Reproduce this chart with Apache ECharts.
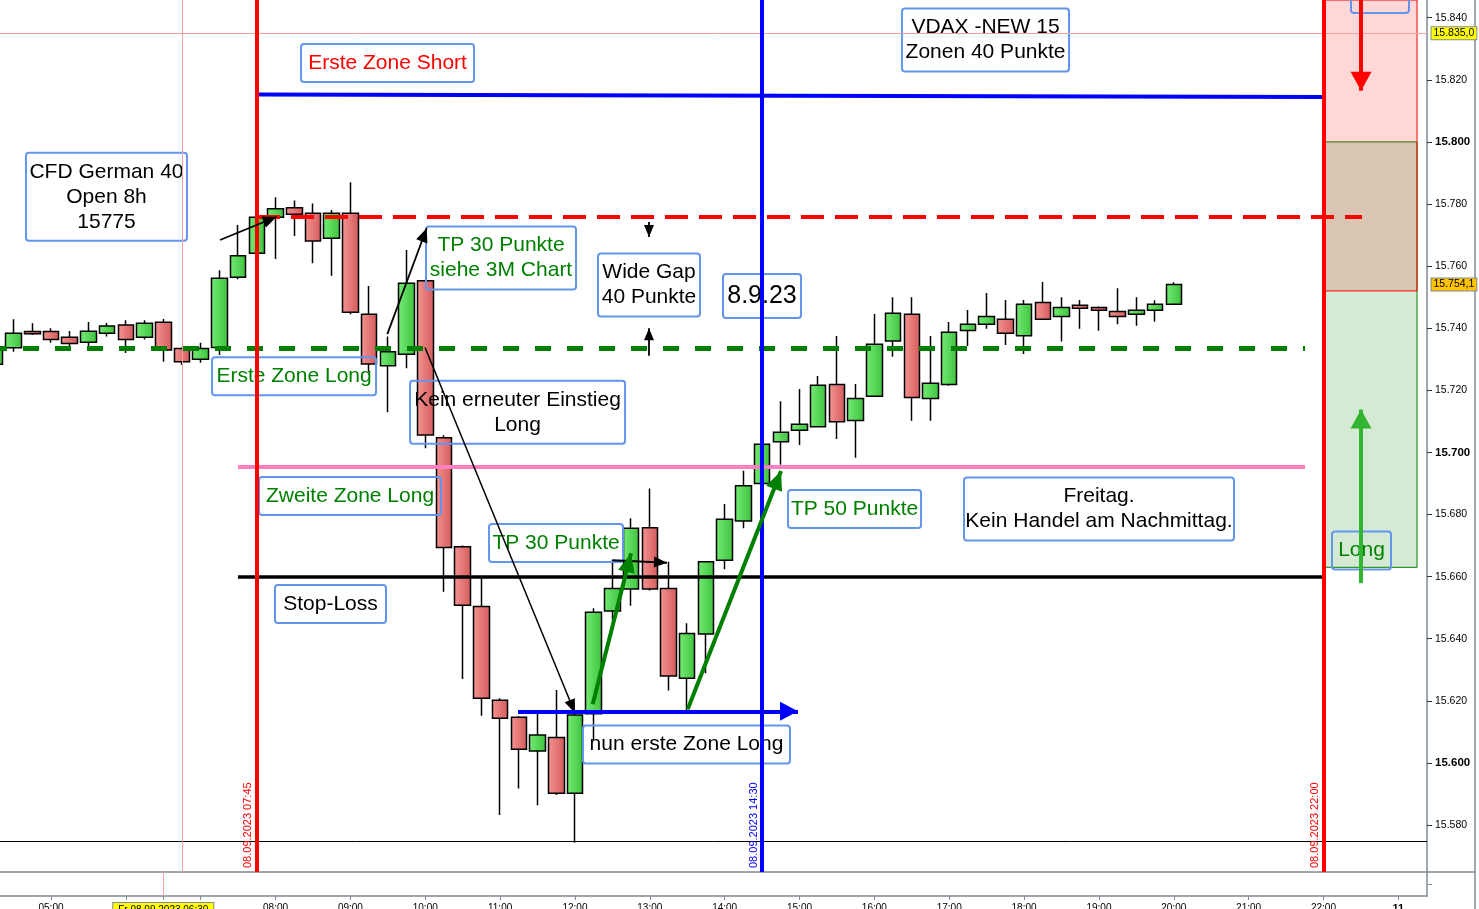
<!DOCTYPE html>
<html><head><meta charset="utf-8">
<script src="https://cdn.jsdelivr.net/npm/echarts@6/dist/echarts.min.js"></script>
<style>html,body{margin:0;padding:0;background:#fff;overflow:hidden}#c{width:1479px;height:909px}</style>
</head><body><div id="c"></div>
<script>
// ================= DATA =================
const times = ['04:15','04:30','04:45','05:00','05:15','05:30','05:45','06:00','06:15','06:30','06:45','07:00','07:15','07:30','07:45','08:00','08:15','08:30','08:45','09:00','09:15','09:30','09:45','10:00','10:15','10:30','10:45','11:00','11:15','11:30','11:45','12:00','12:15','12:30','12:45','13:00','13:15','13:30','13:45','14:00','14:15','14:30','14:45','15:00','15:15','15:30','15:45','16:00','16:15','16:30','16:45','17:00','17:15','17:30','17:45','18:00','18:15','18:30','18:45','19:00','19:15','19:30','19:45','20:00'];
const opens  = [15728.4,15733.7,15738.9,15738.9,15737.1,15735.5,15738.4,15741.0,15737.1,15741.9,15733.5,15730.0,15733.8,15756.4,15764.1,15775.7,15778.8,15777.0,15769.0,15777.0,15744.5,15727.9,15731.6,15755.3,15704.7,15669.6,15650.4,15620.2,15614.7,15603.8,15608.2,15590.2,15615.8,15648.9,15656.0,15675.7,15656.2,15627.3,15641.5,15665.3,15677.9,15690.0,15703.4,15707.1,15708.3,15721.9,15710.3,15718.1,15735.9,15744.5,15717.4,15721.9,15739.3,15741.3,15742.9,15737.6,15748.3,15743.8,15747.4,15746.7,15745.4,15744.5,15745.8,15747.7];
const closes = [15733.5,15738.4,15738.2,15736.4,15735.1,15739.0,15740.7,15736.4,15741.6,15733.0,15729.2,15733.5,15756.1,15763.3,15775.7,15778.5,15776.7,15768.1,15777.0,15745.1,15728.5,15732.4,15754.5,15705.6,15669.4,15650.8,15620.8,15614.4,15604.4,15609.0,15590.2,15615.4,15648.5,15656.2,15675.6,15656.0,15628.0,15641.7,15664.8,15678.5,15689.3,15702.6,15706.5,15709.1,15721.6,15709.9,15717.4,15734.8,15744.8,15717.7,15722.3,15738.7,15741.3,15743.8,15738.4,15747.7,15742.9,15746.7,15746.4,15745.8,15743.8,15745.8,15747.7,15754.1];
const lows   = [15726.0,15732.4,15737.8,15735.3,15733.3,15733.4,15737.3,15732.0,15736.4,15729.2,15728.2,15728.9,15731.4,15755.8,15763.8,15762.3,15769.7,15760.9,15756.9,15744.5,15725.9,15712.9,15727.1,15701.3,15655.1,15627.0,15615.2,15583.2,15591.8,15586.4,15589.7,15574.3,15607.4,15646.0,15650.6,15655.5,15623.3,15617.0,15628.9,15662.4,15675.6,15689.0,15696.0,15702.4,15708.0,15704.3,15698.3,15718.0,15730.8,15710.2,15710.2,15721.5,15734.3,15739.8,15734.6,15731.7,15742.7,15735.7,15739.8,15739.2,15741.3,15740.8,15742.1,15747.5];
const highs  = [15735.0,15742.9,15741.6,15740.0,15739.1,15742.0,15741.7,15742.6,15742.6,15743.0,15733.8,15735.3,15758.7,15773.2,15776.0,15782.2,15781.1,15780.2,15778.1,15787.0,15753.6,15737.3,15765.2,15755.6,15705.5,15670.0,15659.5,15620.8,15615.0,15616.0,15623.5,15616.0,15649.8,15665.4,15678.8,15688.4,15664.8,15645.0,15665.0,15683.4,15694.1,15703.0,15716.5,15720.4,15724.6,15737.5,15722.0,15744.6,15750.0,15750.0,15737.5,15742.0,15745.9,15751.3,15749.1,15749.1,15754.9,15750.0,15749.1,15747.0,15752.9,15750.0,15749.0,15754.8];

const yTickValues = [15580,15600,15620,15640,15660,15680,15700,15720,15740,15760,15780,15800,15820,15840];
const xTickHours  = [5,6,6.5,7,8,9,10,11,12,13,14,15,16,17,18,19,20,21,22,23];
const xLabelHours = [5,6.5,8,9,10,11,12,13,14,15,16,17,18,19,20,21,22,23];
const dateLabel = 'Fr 08.09.2023 06:30';
const nextDayLabel = '11';
const lastPrice = 15754.1;
const crossPrice = 15835.0;
const crossTimeMain = 6.758;
const crossTimeLower = 6.5;

// axis extents
const X_MIN = 4.3186, X_MAX = 23.383;
const Y_MIN = 15564.87, Y_MAX = 15845.7;

// horizontal levels: [hour, value] start / end
const levelStarts = [[7.752,15815.3],[7.752,15776.0],[X_MIN,15733.6],[7.498,15695.3],[7.498,15659.8],[X_MIN,15574.8],[X_MIN,15835.0]];
const levelEnds   = [[22.0,15814.5],[22.515,15776.0],[21.754,15733.6],[21.754,15695.3],[22.0,15659.8],[X_MAX,15574.8],[X_MAX,15835.0]];

// vertical time markers
const markerTimes  = [7.75, 14.5, 22.0];
const markerLabels = ['08.09.2023 07:45','08.09.2023 14:30','08.09.2023 22:00'];

// arrows
const arrowFrom = [[7.258,15768.4],[9.493,15738.1],[9.997,15733.8],[12.989,15774.2],[12.989,15731.1],[12.502,15665.3],[12.237,15618.9],[13.506,15617.3],[11.239,15616.6],[22.502,Y_MAX],[22.502,15657.9]];
const arrowTo   = [[8.015,15775.9],[10.019,15772.2],[12.001,15616.0],[12.989,15769.4],[12.989,15740.0],[13.230,15664.5],[12.749,15667.5],[14.753,15694.0],[14.980,15616.6],[22.502,15816.5],[22.502,15713.8]];

// zones: [fromHour, toHour, topValue, bottomValue]
const zoneLong  = [22.0, 23.250, 15800.0, 15663.0];
const zoneShort = [22.0, 23.250, Y_MAX, 15752.0];

// notes
const noteTexts = ['CFD German 40\nOpen 8h\n15775','Erste Zone Short','VDAX -NEW 15\nZonen 40 Punkte','TP 30 Punkte\nsiehe 3M Chart','Wide Gap\n40 Punkte','8.9.23','Erste Zone Long','Kein erneuter Einstieg\nLong','Zweite Zone Long','TP 30 Punkte','TP 50 Punkte','Freitag.\nKein Handel am Nachmittag.','Stop-Loss','nun erste Zone Long','Long',''];
const noteTimes  = [5.741,9.496,17.485,11.012,12.989,14.499,8.247,11.233,8.995,11.747,15.735,19.001,8.734,13.490,22.508,22.755];
const noteValues = [15782.3,15825.4,15832.8,15762.6,15753.9,15750.4,15724.5,15712.9,15686.0,15670.8,15681.8,15681.8,15651.2,15605.9,15668.4,15847.6];

// ================= STYLES =================
const FONT = '"Liberation Sans", Arial, sans-serif';
const AXIS_GREY = '#7F8B96';
const levelStyles = [
  {color:'#0000FF', width:4, type:'solid'},
  {color:'#FF0000', width:4, type:[23,11]},
  {color:'#008000', width:5, type:[16,16], dashOffset:9},
  {color:'#FF80C0', width:4, type:'solid'},
  {color:'#000000', width:3.5, type:'solid'},
  {color:'#000000', width:1, type:'solid'},
  {color:'#F4A0A0', width:1, type:'solid'}
];
const markerColors = ['#FF0000','#0000FF','#FF0000'];
const arrowStyles = [
  {c:'#000', w:1.8, s:[12,14]},
  {c:'#000', w:1.8, s:[12,14]},
  {c:'#000', w:1.5, s:[11,14]},
  {c:'#000', w:1.8, s:[10,12]},
  {c:'#000', w:1.8, s:[10,12]},
  {c:'#000', w:2, s:[11,13]},
  {c:'#008000', w:4, s:[17,19]},
  {c:'#008000', w:4, s:[17,19]},
  {c:'#0000FF', w:4, s:[19,18]},
  {c:'#FF0000', w:4, s:[21,19]},
  {c:'#33B533', w:4, s:[21,19]}
];
const G='#008000', R='#FF0000', K='#000000';
const noteColors = [K,R,K,G,K,K,G,K,G,G,G,K,K,K,G,K];
const noteWidths = [161,173,167,150,102,78,164,215,182,134,133,270,111,207,59,58];

// ================= BUILD =================
const toH = s => { const p = s.split(':'); return +p[0] + (+p[1]) / 60; };
const candles = times.map((t, i) => [toH(t), opens[i], closes[i], lows[i], highs[i]]);
const fmtPrice = v => { const s = String(Math.round(v)); return s.slice(0, s.length - 3) + '.' + s.slice(-3); };
const fmtTag = v => { const i = Math.floor(v); return fmtPrice(i) + ',' + Math.round((v - i) * 10); };
const pad2 = n => (n < 10 ? '0' : '') + n;

const upColor = new echarts.graphic.LinearGradient(0,0,1,0,[{offset:0,color:'#76EB76'},{offset:1,color:'#3CC33C'}]);
const downColor = new echarts.graphic.LinearGradient(0,0,1,0,[{offset:0,color:'#F59494'},{offset:1,color:'#D45A5A'}]);

const levelLines = levelStarts.map((s, i) => [
  {coord: s, symbol:'none', lineStyle: levelStyles[i]},
  {coord: levelEnds[i], symbol:'none'}
]);
const verticalLines = markerTimes.map((t, i) => ({
  xAxis: t, symbol:'none',
  lineStyle: {color: markerColors[i], width: 4, type:'solid'},
  label: {show: true, position: 'insideStartTop', formatter: markerLabels[i], color: markerColors[i], fontSize: 11, fontFamily: FONT, distance: [4, 3]}
}));
const crossV = {xAxis: crossTimeMain, symbol:'none', lineStyle:{color:'#F4A0A0', width:1, type:'solid'}, label:{show:false}};
const arrowLines = arrowFrom.map((f, i) => [
  {coord: f, symbol:'none', lineStyle:{color: arrowStyles[i].c, width: arrowStyles[i].w, type:'solid'}},
  {coord: arrowTo[i], symbol:'triangle', symbolSize: arrowStyles[i].s, symbolOffset:[0,'50%'], itemStyle:{color: arrowStyles[i].c}}
]);

const notes = noteTexts.map((txt, i) => {
  const big = txt === '8.9.23';
  return {
    value: [noteTimes[i], noteValues[i]],
    label: {
      show: true, position: 'inside', formatter: txt || ' ',
      color: noteColors[i], fontSize: big ? 25 : 21, lineHeight: big ? 30 : 25,
      fontFamily: FONT, align: 'center', verticalAlign: 'middle',
      width: noteWidths[i], padding: big ? [7, 0] : [6.5, 0],
      borderColor: '#6495ED', borderWidth: 1, borderRadius: 3, backgroundColor: 'transparent',
      textBorderWidth: 0
    }
  };
});

const option = {
  animation: false,
  backgroundColor: '#ffffff',
  textStyle: {fontFamily: FONT},
  grid: [
    {left: 0, top: 0, width: 1427, height: 872, containLabel: false, outerBoundsMode: 'none'},
    {left: 0, top: 872, width: 1427, height: 24, containLabel: false, outerBoundsMode: 'none'}
  ],
  xAxis: [
    {type:'value', gridIndex:0, min:X_MIN, max:X_MAX,
     axisLine:{show:true, onZero:false, lineStyle:{color:AXIS_GREY, width:1.5}},
     axisTick:{show:false}, axisLabel:{show:false}, splitLine:{show:false}},
    {type:'value', gridIndex:1, min:X_MIN, max:X_MAX,
     axisLine:{show:true, onZero:false, lineStyle:{color:AXIS_GREY, width:1.5}},
     axisTick:{show:true, customValues:xTickHours, length:4, lineStyle:{color:AXIS_GREY}},
     axisLabel:{show:true, customValues:xLabelHours, margin:7, fontSize:10, color:'#000',
       formatter: h => h === 6.5 ? '{d|' + dateLabel + '}' : (h === 23 ? '{n|' + nextDayLabel + '}' : pad2(h) + ':00'),
       rich:{
         d:{backgroundColor:'#FFFF00', borderColor:AXIS_GREY, borderWidth:1, padding:[2,5,2,5], fontSize:10, color:'#000'},
         n:{fontWeight:'bold', fontSize:11, color:'#000'}
       }},
     splitLine:{show:false}}
  ],
  yAxis: [
    {type:'value', gridIndex:0, position:'right', min:Y_MIN, max:Y_MAX,
     axisLine:{show:true, onZero:false, lineStyle:{color:AXIS_GREY, width:1.5}},
     axisTick:{show:true, customValues:yTickValues, length:5, lineStyle:{color:'#333'}},
     axisLabel:{show:true, customValues:yTickValues, margin:8, fontSize:10.5, color:'#000',
       formatter: v => (Math.round(v) % 100 === 0 ? '{b|' + fmtPrice(v) + '}' : fmtPrice(v)),
       rich:{b:{fontWeight:'bold', fontSize:11.5, color:'#000'}}},
     splitLine:{show:false}},
    {type:'value', gridIndex:1, position:'right', min:0, max:1,
     axisLine:{show:true, onZero:false, lineStyle:{color:AXIS_GREY, width:1.5}},
     axisTick:{show:true, customValues:[0.5], length:5, lineStyle:{color:AXIS_GREY}},
     axisLabel:{show:false}, splitLine:{show:false}}
  ],
  series: [
    {
      name:'zones', type:'line', xAxisIndex:0, yAxisIndex:0, data:[], z:1, silent:true,
      markArea: {
        silent: true,
        data: [
          [{coord:[zoneLong[0], zoneLong[2]], itemStyle:{color:'rgba(0,128,0,0.165)', borderColor:'#008000', borderWidth:1}},
           {coord:[zoneLong[1], zoneLong[3]]}],
          [{coord:[zoneShort[0], zoneShort[2]], itemStyle:{color:'rgba(255,0,0,0.155)', borderColor:'#FF0000', borderWidth:1}},
           {coord:[zoneShort[1], zoneShort[3]]}]
        ]
      }
    },
    {
      name:'CFD German 40', type:'candlestick', xAxisIndex:0, yAxisIndex:0, z:2,
      dimensions:['time','open','close','lowest','highest'],
      encode:{x:'time', y:['open','close','lowest','highest']},
      data: candles, barWidth: 16, clip: true,
      itemStyle:{color:upColor, color0:downColor, borderColor:'#000', borderColor0:'#000', borderWidth:1.5},
      markPoint: {
        silent: true,
        data: [
          {coord:[X_MAX, crossPrice], symbol:'rect', symbolSize:1, itemStyle:{color:'transparent'},
           label:{show:true, position:'right', distance:4, formatter: fmtTag(crossPrice), color:'#000', fontSize:10.5,
                  backgroundColor:'#FFFF00', borderColor:AXIS_GREY, borderWidth:1, padding:[1,2,0,2]}},
          {coord:[X_MAX, lastPrice], symbol:'rect', symbolSize:1, itemStyle:{color:'transparent'},
           label:{show:true, position:'right', distance:4, formatter: fmtTag(lastPrice), color:'#000', fontSize:10.5,
                  backgroundColor:'#FFC400', borderColor:AXIS_GREY, borderWidth:1, padding:[1,2,0,2]}}
        ]
      }
    },
    {
      name:'notes', type:'scatter', xAxisIndex:0, yAxisIndex:0, z:3, clip:false, silent:true,
      symbol:'circle', symbolSize:1, itemStyle:{color:'transparent', opacity:1},
      data: notes
    },
    {
      name:'lines', type:'line', xAxisIndex:0, yAxisIndex:0, data:[], z:5, silent:true,
      markLine: {
        silent: true, symbol:'none', label:{show:false},
        data: [].concat(levelLines, [crossV], verticalLines, arrowLines)
      }
    },
    {
      name:'cross', type:'line', xAxisIndex:1, yAxisIndex:1, data:[], silent:true,
      markLine: {silent:true, symbol:'none', label:{show:false},
        data:[{xAxis: crossTimeLower, lineStyle:{color:'#F4A0A0', width:1, type:'solid'}}]}
    }
  ],
  graphic: [
    {type:'line', shape:{x1:1475, y1:0, x2:1475, y2:909}, style:{stroke:AXIS_GREY, lineWidth:1.5}, silent:true},
    {type:'line', shape:{x1:1427, y1:872, x2:1475, y2:872}, style:{stroke:AXIS_GREY, lineWidth:1.5}, silent:true}
  ]
};
const chart = echarts.init(document.getElementById('c'), null, {renderer:'canvas'});
chart.setOption(option);
</script>
</body></html>
